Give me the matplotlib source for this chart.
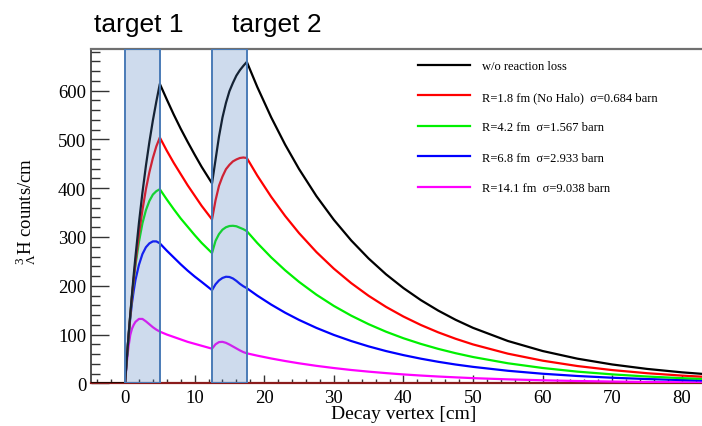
import matplotlib
matplotlib.use("Agg")
import matplotlib.pyplot as plt
from matplotlib.ticker import MultipleLocator

plt.rcParams["font.family"] = ["Liberation Serif", "DejaVu Serif"]
plt.rcParams["mathtext.fontset"] = "custom"
plt.rcParams["mathtext.rm"] = "Liberation Serif"
plt.rcParams["mathtext.it"] = "Liberation Serif:italic"

# Decay vertex position [cm]
vertex = [-5, 0, 0.25, 0.5, 0.75, 1, 1.25, 1.5, 2, 2.5, 3, 3.5, 4, 4.5, 5,
          6, 7, 8, 9, 10, 11, 12.5,
          13, 13.5, 14, 14.5, 15, 15.5, 16, 16.5, 17, 17.5,
          19, 21, 23, 25, 27.5, 30, 32.5, 35, 37.5, 40, 42.5, 45, 47.5, 50,
          55, 60, 65, 70, 75, 80, 85]

# Hypertriton counts per cm for each interaction hypothesis
no_loss = [0, 0, 50, 97, 141, 183, 223, 260, 329, 391, 446, 495, 539, 578, 614,
           582, 551, 522, 495, 469, 444, 410,
           458, 506, 545, 575, 599, 616, 631, 642, 651, 659,
           607.7, 545.4, 489.5, 439.4, 383.8, 335.3, 292.9, 255.9, 223.5, 195.3,
           170.6, 149.1, 130.2, 113.7, 86.8, 66.2, 50.5, 38.6, 29.5, 22.5, 17.1]
r_1p8 = [0, 0, 50, 96, 139, 179, 215, 248, 306, 355, 398, 433, 462, 486, 504,
         477, 452, 429, 406, 385, 364, 336,
         375, 405, 424, 439, 448, 455, 459, 462, 463, 462,
         426.0, 382.4, 343.2, 308.0, 269.1, 235.1, 205.4, 179.4, 156.7, 136.9,
         119.6, 104.5, 91.3, 79.7, 60.8, 46.4, 35.4, 27.1, 20.7, 15.8, 12.0]
r_4p2 = [0, 0, 50, 95, 138, 178, 212, 242, 290, 328, 355, 374, 387, 394, 398,
         377, 357, 338, 321, 304, 288, 267,
         292, 306, 315, 320, 322.5, 323, 322, 319, 316, 312,
         287.7, 258.2, 231.8, 208.0, 181.7, 158.7, 138.7, 121.2, 105.8, 92.4,
         80.8, 70.6, 61.7, 53.9, 41.1, 31.4, 23.9, 18.3, 13.9, 10.6, 8.1]
r_6p8 = [0, 0, 50, 95, 133, 165, 190, 212, 243, 265, 279, 287, 291, 291, 287,
         272, 258, 244, 231, 219, 208, 191,
         203, 211, 216, 218.5, 218, 215, 210, 204, 199, 195,
         179.8, 161.4, 144.8, 130.0, 113.6, 99.2, 86.7, 75.7, 66.1, 57.8,
         50.5, 44.1, 38.5, 33.7, 25.7, 19.6, 15.0, 11.4, 8.7, 6.6, 5.1]
r_14p1 = [0, 0, 42, 75, 99, 112, 120, 126, 132, 132, 127, 121, 115, 110, 106,
          100, 95, 90, 85, 81, 77, 71,
          80, 84.5, 85, 83, 79.5, 75.5, 71.5, 67.5, 64, 61.5,
          56.7, 50.9, 45.7, 41.0, 35.8, 31.3, 27.3, 23.9, 20.9, 18.2,
          15.9, 13.9, 12.2, 10.6, 8.1, 6.2, 4.7, 3.6, 2.7, 2.1, 1.6]

series = [
    (no_loss, "black", "w/o reaction loss"),
    (r_1p8, "#ff0000", "R=1.8 fm (No Halo)  σ=0.684 barn"),
    (r_4p2, "#00f000", "R=4.2 fm  σ=1.567 barn"),
    (r_6p8, "#0000ff", "R=6.8 fm  σ=2.933 barn"),
    (r_14p1, "#ff00ff", "R=14.1 fm  σ=9.038 barn"),
]

# Target extents along the beam [cm]
targets = [(0, 5), (12.5, 17.5)]
target_names = ["target 1", "target 2"]
# horizontal centres of the target captions, in pixels
caption_x = [138.5, 277]

fig = plt.figure(figsize=(7.02, 4.27), dpi=100)
ax = fig.add_axes([91 / 702, 42.7 / 427, 611 / 702, 334.3 / 427])

handles = {}
for values, color, label in reversed(series):
    (ln,) = ax.plot(vertex, values, color=color, lw=1.6, label=label, zorder=3)
    handles[label] = ln

for lo, hi in targets:
    ax.axvspan(lo, hi, facecolor=(0.31, 0.50, 0.75, 0.28),
               edgecolor="#4a7bb7", lw=1.4, zorder=4)

ax.set_xlim(-4.89, 82.9)
ax.set_ylim(0, 685.5)

ax.xaxis.set_major_locator(MultipleLocator(10))
ax.xaxis.set_minor_locator(MultipleLocator(2))
ax.yaxis.set_major_locator(MultipleLocator(100))
ax.yaxis.set_minor_locator(MultipleLocator(20))
ax.tick_params(axis="y", which="major", direction="in", length=13, width=1.0,
               color="#333333", labelsize=13.5, pad=3.5)
ax.tick_params(axis="y", which="minor", direction="in", length=6.5, width=1.0,
               color="#333333")
ax.tick_params(axis="x", which="major", direction="in", length=6, width=1.0,
               color="#333333", labelsize=13.5, pad=4)
ax.tick_params(axis="x", which="minor", direction="in", length=3, width=1.0,
               color="#333333")

ax.spines["right"].set_visible(False)
ax.spines["top"].set_color("#707070")
ax.spines["top"].set_linewidth(1.6)
ax.spines["left"].set_color("#333333")
ax.spines["left"].set_linewidth(1.2)
ax.spines["bottom"].set_color("#8b1c1c")
ax.spines["bottom"].set_linewidth(1.6)

order = [label for _, _, label in series]
leg = ax.legend([handles[l] for l in order], order, loc="upper left",
                bbox_to_anchor=(0.535, 0.966), frameon=False, fontsize=9,
                handlelength=4.16, handletextpad=0.94, labelspacing=1.48,
                borderpad=0, borderaxespad=0)

fig.text(403.5 / 702, 12.5 / 427, "Decay vertex [cm]", ha="center", va="center",
         fontsize=14)
fig.text(26 / 702, (427 - 211) / 427, r"$^{3}_{\Lambda}$H counts/cm",
         ha="center", va="center", rotation=90, fontsize=13.5)

for xc, name in zip(caption_x, target_names):
    fig.text(xc / 702, (427 - 31.7) / 427, name, ha="center",
             va="baseline", fontsize=19, family=["Liberation Sans", "DejaVu Sans"])

fig.savefig("out.png", dpi=100)
